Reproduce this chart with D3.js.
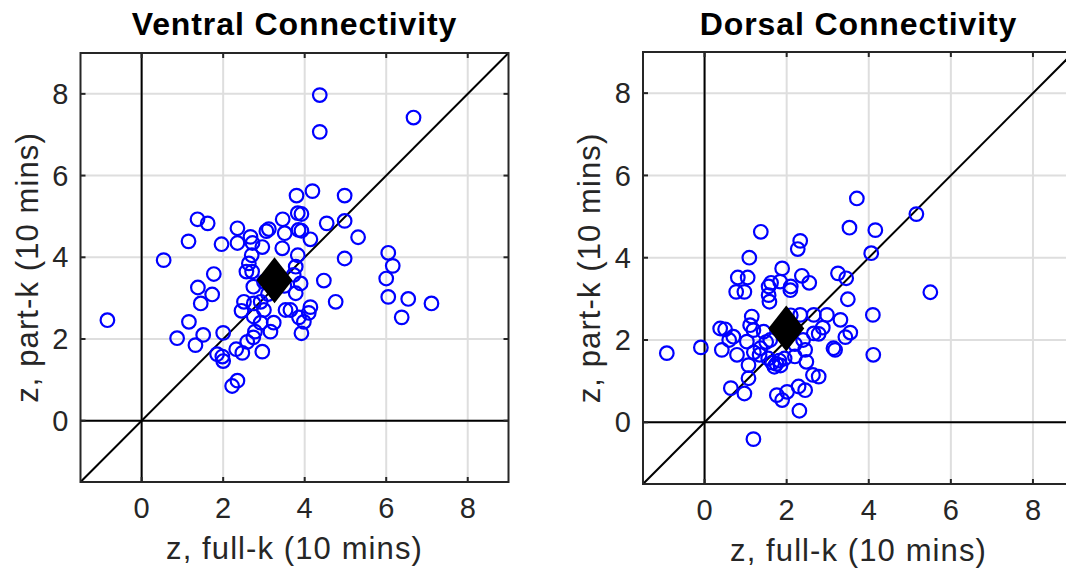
<!DOCTYPE html>
<html>
<head>
<meta charset="utf-8">
<script src="https://cdn.jsdelivr.net/npm/d3@7"></script>
<style>
  body { margin: 0; background: #fff; }
  text { font-family: "Liberation Sans", Arial, sans-serif; fill: #262626; }
</style>
</head>
<body>
<script>
// ventral connectivity: z full-k (x) vs z part-k (y)
var ventralFull = [-0.84,0.54,1.15,1.37,1.62,1.96,2.35,2.35,2.67,2.72,
  3.06,3.12,3.46,3.51,3.45,2.96,2.70,3.83,3.85,3.83,
  3.80,4.37,4.37,6.67,4.19,4.98,3.92,4.54,4.98,3.92,
  4.14,5.31,6.05,4.98,6.16,3.78,6.00,4.47,3.73,3.90,
  3.78,6.05,6.54,7.11,6.38,4.76,4.14,4.10,3.86,3.98,
  3.92,3.65,1.77,1.38,1.73,1.45,1.16,0.87,1.51,1.32,
  2.00,1.85,1.98,2.00,2.22,2.35,2.32,2.47,2.59,2.74,
  2.78,2.96,3.16,3.24,2.92,2.75,3.00,2.75,2.45,2.51,
  2.92,2.74,2.57,2.71,2.63,3.53,3.00,3.50,3.10];
var ventralPart = [2.46,3.93,4.39,4.93,4.83,4.32,4.71,4.35,4.50,4.35,
  4.64,4.69,4.93,4.59,4.22,4.25,4.05,5.08,4.67,4.05,
  5.51,7.97,7.07,7.42,5.62,5.51,5.06,4.83,4.89,4.65,
  4.44,4.49,4.11,3.97,3.79,3.77,3.48,3.43,3.57,3.36,
  3.12,3.03,2.98,2.87,2.53,2.91,2.78,2.64,2.53,2.42,
  2.14,2.71,3.59,3.26,3.09,2.87,2.42,2.02,2.10,1.85,
  2.15,1.63,1.57,1.46,0.85,0.98,1.75,1.66,1.93,2.04,
  2.18,1.69,2.18,2.40,2.40,2.55,2.71,2.87,2.69,2.91,
  2.91,3.28,3.65,3.65,3.85,2.71,3.40,3.30,3.10];
var ventralMean = [3.26, 3.44];

// dorsal connectivity
var dorsalFull = [3.71,3.53,1.37,2.33,2.27,1.09,1.89,0.81,1.05,1.62,
  1.56,1.84,2.10,2.37,2.55,3.25,3.45,0.77,0.97,1.56,
  3.49,5.16,4.16,4.06,5.50,4.10,3.31,3.55,3.43,4.11,
  -0.92,-0.09,1.58,2.09,1.15,0.38,0.50,0.70,0.42,0.79,
  1.03,1.19,1.11,1.44,1.36,1.34,1.55,1.65,1.75,1.85,
  1.70,1.82,1.95,1.07,1.07,0.64,0.97,1.76,1.89,2.01,
  2.29,2.45,2.31,1.19,2.33,2.66,2.98,2.88,2.66,2.78,
  2.45,2.48,2.64,2.78,3.18,3.14,1.50,1.60,2.20,2.40,
  0.60,1.20,2.10,2.20];
var dorsalPart = [5.44,4.73,4.63,4.41,4.21,4.00,3.74,3.52,3.52,3.39,
  3.30,3.42,3.30,3.56,3.39,3.62,3.50,3.17,3.17,3.09,
  2.99,5.06,4.67,4.11,3.16,2.61,2.49,2.18,2.07,1.64,
  1.68,1.82,2.93,3.21,2.57,2.28,2.26,2.08,1.76,1.64,
  1.96,2.24,2.36,2.20,1.80,1.64,1.55,1.45,1.42,1.38,
  1.35,1.50,1.55,1.39,1.07,0.83,0.70,0.66,0.54,0.74,
  0.87,0.78,0.28,-0.41,2.61,2.61,2.61,2.30,2.16,2.15,
  1.76,1.47,1.15,1.11,1.76,1.80,1.95,2.00,1.90,2.00,
  2.00,1.70,2.60,1.60];
var dorsalMean = [1.99, 2.28];

var tickValues = [0, 2, 4, 6, 8];
var axisDomain = [-1.5, 9];

var svg = d3.select("body").append("svg")
    .attr("width", 1066)
    .attr("height", 569);

drawPanel("Ventral Connectivity", ventralFull, ventralPart, ventralMean, [80.5, 508.5], [482, 53]);
drawPanel("Dorsal Connectivity", dorsalFull, dorsalPart, dorsalMean, [643, 1074], [484, 52]);

function drawPanel(title, xs, ys, mean, xRange, yRange) {
    var x = d3.scaleLinear().domain(axisDomain).range(xRange);
    var y = d3.scaleLinear().domain(axisDomain).range(yRange);
    var g = svg.append("g");
    var x0 = xRange[0], x1 = xRange[1], y0 = yRange[1], y1 = yRange[0];

    // grid
    g.selectAll(".gx").data(tickValues).enter().append("line")
        .attr("x1", d => x(d)).attr("x2", d => x(d))
        .attr("y1", y0).attr("y2", y1)
        .attr("stroke", "#dedede").attr("stroke-width", 2);
    g.selectAll(".gy").data(tickValues).enter().append("line")
        .attr("y1", d => y(d)).attr("y2", d => y(d))
        .attr("x1", x0).attr("x2", x1)
        .attr("stroke", "#dedede").attr("stroke-width", 2);

    // zero lines and identity line
    g.append("line").attr("x1", x(0)).attr("x2", x(0)).attr("y1", y0).attr("y2", y1)
        .attr("stroke", "#000").attr("stroke-width", 2);
    g.append("line").attr("x1", x0).attr("x2", x1).attr("y1", y(0)).attr("y2", y(0))
        .attr("stroke", "#000").attr("stroke-width", 2);
    g.append("line")
        .attr("x1", x(axisDomain[0])).attr("y1", y(axisDomain[0]))
        .attr("x2", x(axisDomain[1])).attr("y2", y(axisDomain[1]))
        .attr("stroke", "#000").attr("stroke-width", 2);

    // points
    g.selectAll(".pt").data(xs).enter().append("circle")
        .attr("cx", d => x(d))
        .attr("cy", (d, i) => y(ys[i]))
        .attr("r", 6.8)
        .attr("fill", "none")
        .attr("stroke", "#0000ff")
        .attr("stroke-width", 2.2);

    // mean diamond
    var mx = x(mean[0]), my = y(mean[1]);
    g.append("path")
        .attr("d", "M" + mx + "," + (my - 23) + "L" + (mx + 18) + "," + my +
                   "L" + mx + "," + (my + 23) + "L" + (mx - 18) + "," + my + "Z")
        .attr("fill", "#000");

    // box
    g.append("rect")
        .attr("x", x0).attr("y", y0)
        .attr("width", x1 - x0).attr("height", y1 - y0)
        .attr("fill", "none").attr("stroke", "#262626").attr("stroke-width", 2);

    // inward ticks on all four sides
    var tl = 5;
    tickValues.forEach(function(t) {
        g.append("line").attr("x1", x(t)).attr("x2", x(t)).attr("y1", y1).attr("y2", y1 - tl)
            .attr("stroke", "#262626").attr("stroke-width", 2);
        g.append("line").attr("x1", x(t)).attr("x2", x(t)).attr("y1", y0).attr("y2", y0 + tl)
            .attr("stroke", "#262626").attr("stroke-width", 2);
        g.append("line").attr("x1", x0).attr("x2", x0 + tl).attr("y1", y(t)).attr("y2", y(t))
            .attr("stroke", "#262626").attr("stroke-width", 2);
        g.append("line").attr("x1", x1).attr("x2", x1 - tl).attr("y1", y(t)).attr("y2", y(t))
            .attr("stroke", "#262626").attr("stroke-width", 2);
    });

    // tick labels
    g.selectAll(".xl").data(tickValues).enter().append("text")
        .attr("x", d => x(d)).attr("y", y1 + 36)
        .attr("text-anchor", "middle")
        .style("font-size", "29px")
        .text(d => d);
    g.selectAll(".yl").data(tickValues).enter().append("text")
        .attr("x", x0 - 12).attr("y", d => y(d))
        .attr("dy", "0.35em")
        .attr("text-anchor", "end")
        .style("font-size", "29px")
        .text(d => d);

    // axis labels
    g.append("text")
        .attr("x", (x0 + x1) / 2).attr("y", y1 + 77)
        .attr("text-anchor", "middle")
        .style("font-size", "31px").style("letter-spacing", "1.1px")
        .text("z, full-k (10 mins)");
    g.append("text")
        .attr("transform", "translate(" + (x0 - 43) + "," + ((y0 + y1) / 2) + ") rotate(-90)")
        .attr("text-anchor", "middle")
        .style("font-size", "31px").style("letter-spacing", "1.1px")
        .text("z, part-k (10 mins)");

    // title
    g.append("text")
        .attr("x", (x0 + x1) / 2).attr("y", 35)
        .attr("text-anchor", "middle")
        .style("font-size", "32px").style("font-weight", "bold")
        .style("letter-spacing", "0.9px").style("fill", "#000")
        .text(title);
}
</script>
</body>
</html>
